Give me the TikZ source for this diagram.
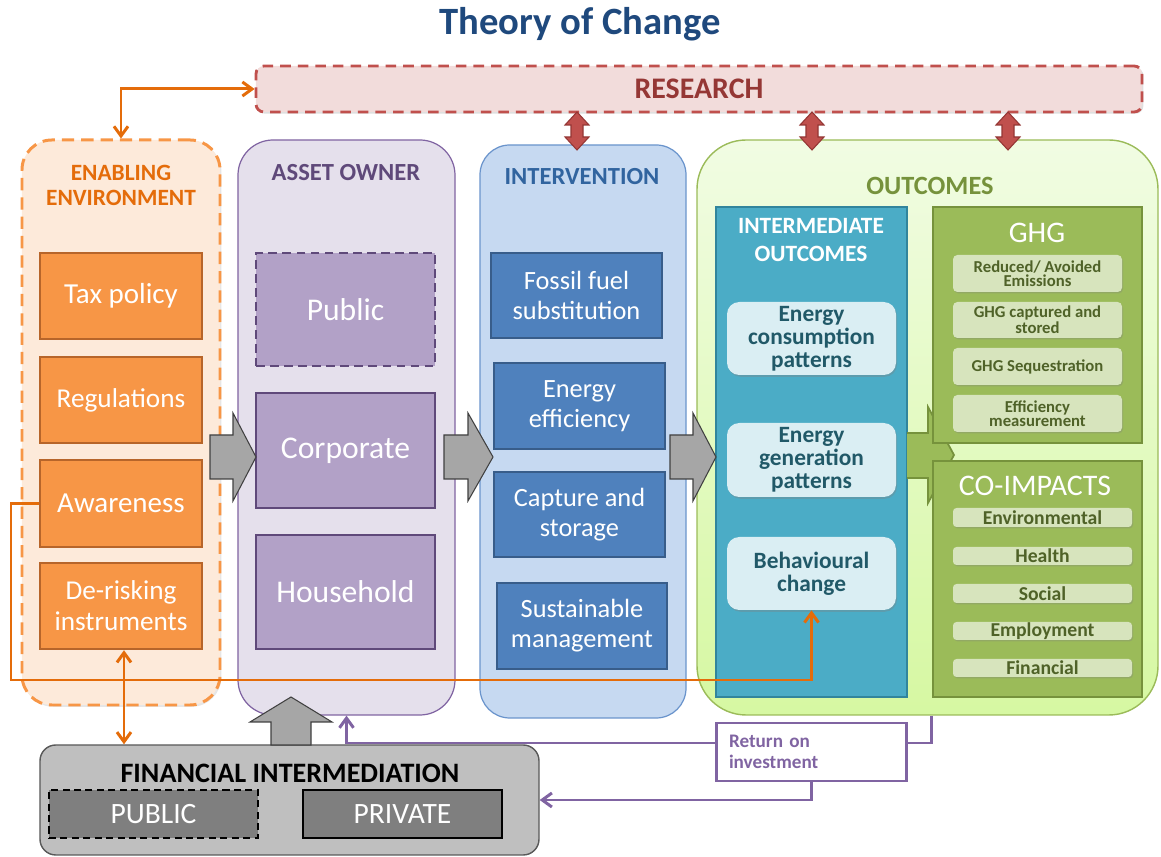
\documentclass[tikz,border=0pt]{standalone}
\usepackage{fontspec}
\setmainfont{Carlito}
\usetikzlibrary{calc,shadows,arrows.meta}
\definecolor{titleblue}{HTML}{1F497D}
\definecolor{resF}{HTML}{F2DCDB}
\definecolor{resB}{HTML}{C0504D}
\definecolor{resT}{HTML}{953735}
\definecolor{resD}{HTML}{943634}
\definecolor{enabF}{HTML}{FDEADA}
\definecolor{enabB}{HTML}{F79646}
\definecolor{enabT}{HTML}{E46C0A}
\definecolor{oboxF}{HTML}{F79646}
\definecolor{oboxB}{HTML}{B7652A}
\definecolor{assetF}{HTML}{E5E0EC}
\definecolor{assetB}{HTML}{8064A2}
\definecolor{assetT}{HTML}{5F497A}
\definecolor{pboxF}{HTML}{B2A1C7}
\definecolor{intvF}{HTML}{C6D9F1}
\definecolor{intvB}{HTML}{6A94CC}
\definecolor{intvT}{HTML}{31649F}
\definecolor{bboxF}{HTML}{4F81BD}
\definecolor{bboxB}{HTML}{385D8A}
\definecolor{outTop}{HTML}{F1FCE3}
\definecolor{outBot}{HTML}{D6F8A2}
\definecolor{outB}{HTML}{9BBB59}
\definecolor{outT}{HTML}{76923C}
\definecolor{interF}{HTML}{4BACC6}
\definecolor{interB}{HTML}{31859C}
\definecolor{ebF}{HTML}{DAEEF3}
\definecolor{ebT}{HTML}{215968}
\definecolor{ghgF}{HTML}{9BBB59}
\definecolor{ghgB}{HTML}{76923C}
\definecolor{giF}{HTML}{D7E4BD}
\definecolor{giT}{HTML}{4F6228}
\definecolor{arrF}{HTML}{A6A6A6}
\definecolor{arrB}{HTML}{404040}
\definecolor{finF}{HTML}{BFBFBF}
\definecolor{finB}{HTML}{595959}
\definecolor{fiF}{HTML}{7F7F7F}
\definecolor{purp}{HTML}{8064A2}
\newcommand\fs[2]{\fontsize{#1}{#2}\selectfont}
\newcommand\bx[7]{%
  \pgfmathsetmacro\bxcx{(#2+#4)/2}\pgfmathsetmacro\bxcy{(#3+#5)/2}%
  \pgfmathsetmacro\bxw{(#4-#2)*0.02}\pgfmathsetmacro\bxh{(#5-#3)*0.02}%
  \node[inner sep=0pt, minimum width=\bxw cm, minimum height=\bxh cm, #6] (#1) at (\bxcx,\bxcy) {#7};}
\begin{document}
\begin{tikzpicture}[x=0.02cm,y=-0.02cm,
  obox/.style={draw=oboxB, fill=oboxF, line width=1.4pt, text=white, align=center, font=\fs{15.5}{17.5}},
  pbox/.style={draw=assetT, fill=pboxF, line width=1.4pt, text=white, align=center, font=\fs{18}{20}},
  bbox/.style={draw=bboxB, fill=bboxF, line width=1.4pt, text=white, align=center, font=\fs{15}{17}},
  ebox/.style={fill=ebF, rounded corners=7pt, text=ebT, align=center, font=\fs{13.3}{13}\bfseries, drop shadow={opacity=0.35, shadow xshift=0.6pt, shadow yshift=-1pt}},
  gitem/.style={fill=giF, rounded corners=2.5pt, text=giT, align=center, font=\fs{9.5}{8}\bfseries, drop shadow={opacity=0.3, shadow xshift=0.6pt, shadow yshift=-0.8pt}},
  citem/.style={fill=giF, rounded corners=2pt, text=giT, align=center, font=\fs{11.2}{12}\bfseries, drop shadow={opacity=0.3, shadow xshift=0.6pt, shadow yshift=-0.8pt}},
  blockarrow/.style={fill=arrF, draw=arrB, line width=0.6pt, line join=miter},
  redarrow/.style={fill=resB, draw=resD, line width=0.6pt},
  barb/.tip={Straight Barb[length=5.5pt,width=8pt]},
  orangeline/.style={draw=enabT, line width=1.7pt},
  purpleline/.style={draw=purp, line width=1.7pt},
  ttlnode/.style={align=center, inner sep=0pt}
]
\useasboundingbox (0,0) rectangle (1161,857);

% title
\node[ttlnode, text=titleblue, font=\fs{22}{24}\bfseries] (title) at (580,24) {Theory of Change};

% research
\bx{research}{256}{66}{1142}{112}{draw=resB, fill=resF, line width=1.6pt, dash pattern=on 6pt off 4pt, rounded corners=4.5pt, text=resT, font=\fs{17}{20}\bfseries, drop shadow={opacity=0.25, shadow xshift=0.8pt, shadow yshift=-1pt}}{RESEARCH}

% enabling environment
\bx{enab}{22}{140}{220}{705}{draw=enabB, fill=enabF, line width=1.7pt, dash pattern=on 7pt off 4pt, rounded corners=17pt, drop shadow={opacity=0.2, shadow xshift=0.8pt, shadow yshift=-1pt}}{}
\node[ttlnode, text=enabT, font=\fs{13.3}{14.2}\bfseries] (enabT) at (121,185) {ENABLING\\ENVIRONMENT};
\bx{tax}{40}{253}{202}{339}{obox, font=\fs{16.5}{18}}{Tax policy}
\bx{reg}{40}{357}{202}{443}{obox}{Regulations}
\bx{aware}{40}{460}{202}{547}{obox, font=\fs{16.5}{18}}{Awareness}
\bx{derisk}{40}{563}{202}{649}{obox}{De-risking\\instruments}

% asset owner
\bx{asset}{238}{140}{455}{715}{draw=assetB, fill=assetF, line width=0.7pt, rounded corners=20pt}{}
\node[ttlnode, text=assetT, font=\fs{14}{16}\bfseries] (assetT) at (346,173) {ASSET OWNER};
\bx{public}{256}{253}{435}{366}{pbox, dash pattern=on 5pt off 3pt, line width=1.5pt}{Public}
\bx{corp}{256}{393}{435}{508}{pbox}{Corporate}
\bx{house}{256}{535}{435}{649}{pbox}{Household}

% intervention
\bx{intv}{480}{145}{686}{718}{draw=intvB, fill=intvF, line width=0.7pt, rounded corners=17pt}{}
\node[ttlnode, text=intvT, font=\fs{14}{16}\bfseries] (intvT) at (582,177) {INTERVENTION};
\bx{fossil}{491}{253}{662}{338}{bbox}{Fossil fuel\\substitution}
\bx{effic}{494}{363}{665}{449}{bbox}{Energy\\efficiency}
\bx{capt}{494}{472}{665}{557}{bbox}{Capture and\\storage}
\bx{sust}{497}{583}{667}{669}{bbox}{Sustainable\\management}

% outcomes
\bx{outc}{697}{140}{1158}{715}{draw=outB, top color=outTop, bottom color=outBot, line width=0.8pt, rounded corners=28pt}{}
\node[ttlnode, text=outT, font=\fs{15}{17}\bfseries] (outcT) at (930,186) {OUTCOMES};
\bx{inter}{716}{207}{907}{697}{draw=interB, fill=interF, line width=1.6pt}{}
\node[ttlnode, text=white, font=\fs{13.3}{15.4}\bfseries] (interT) at (811,240) {INTERMEDIATE\\OUTCOMES};
\bx{econs}{727}{302}{896}{375}{ebox}{Energy\\consumption\\patterns}
\bx{egen}{727}{423}{896}{497}{ebox}{Energy\\generation\\patterns}
\bx{behav}{727}{537}{896}{610}{ebox}{Behavioural\\change}

% green block arrow
\path[fill=ghgF, draw=ghgB, line width=1pt, line join=miter]
  (907,433) -- (928,433) -- (928,407) -- (954,455) -- (928,503) -- (928,478) -- (907,478);

\bx{ghg}{933}{207}{1142}{443}{draw=ghgB, fill=ghgF, line width=1.6pt}{}
\node[ttlnode, text=white, font=\fs{17}{19}] (ghgT) at (1037,233) {GHG};
\bx{g1}{953}{255}{1122}{292}{gitem}{Reduced/ Avoided\\Emissions}
\bx{g2}{953}{302}{1122}{338}{gitem}{GHG captured and\\stored}
\bx{g3}{953}{348}{1122}{385}{gitem}{GHG Sequestration}
\bx{g4}{953}{395}{1122}{432}{gitem}{Efficiency\\measurement}

\bx{coimp}{933}{461}{1142}{697}{draw=ghgB, fill=ghgF, line width=1.6pt}{}
\node[ttlnode, text=white, font=\fs{17}{19}] (coT) at (1035,486) {CO-IMPACTS};
\bx{c1}{953}{508}{1132}{527}{citem}{Environmental}
\bx{c2}{953}{547}{1132}{565}{citem}{Health}
\bx{c3}{953}{584}{1132}{603}{citem}{Social}
\bx{c4}{953}{622}{1132}{640}{citem}{Employment}
\bx{c5}{953}{659}{1132}{677}{citem}{Financial}

% grey block arrows
\path[blockarrow] (210,435) -- (233,435) -- (233,413) -- (256,457) -- (233,501) -- (233,479) -- (210,479) -- cycle;
\path[blockarrow] (444,435) -- (468,435) -- (468,413) -- (493,457) -- (468,501) -- (468,479) -- (444,479) -- cycle;
\path[blockarrow] (670,435) -- (693,435) -- (693,413) -- (716,457) -- (693,501) -- (693,479) -- (670,479) -- cycle;

% research double arrows
\foreach \xx in {577,812,1008}{
  \path[redarrow] (\xx,112) -- ++(12,13) -- ++(-6,0) -- ++(0,12) -- ++(6,0) -- (\xx,150) -- ++(-12,-13) -- ++(6,0) -- ++(0,-12) -- ++(-6,0) -- cycle;
}

% financial intermediation
\bx{fin}{40}{745}{539}{855}{draw=finB, fill=finF, line width=0.8pt, rounded corners=9pt}{}
\node[ttlnode, text=black, font=\fs{16}{18}\bfseries] (finT) at (290,773) {FINANCIAL INTERMEDIATION};
\bx{fpub}{49}{790}{258}{838}{draw=black, fill=fiF, line width=1.7pt, dash pattern=on 4pt off 2.5pt, text=white, font=\fs{16.8}{18}}{PUBLIC}
\bx{fpriv}{303}{790}{502}{838}{draw=black, fill=fiF, line width=1.7pt, text=white, font=\fs{16.8}{18}}{PRIVATE}

% up arrow
\path[blockarrow] (271,745) -- (271,722) -- (250,722) -- (291,697) -- (332,722) -- (311,722) -- (311,745) -- cycle;

% return on investment
\bx{roi}{717}{723}{906}{781}{draw=purp, fill=white, line width=1.7pt, align=left, text width=3.3cm, inner xsep=0.26cm, text=purp, font=\fs{10.9}{12}\bfseries}{Return on\\investment}

% orange connectors
\draw[orangeline, barb-barb] (research.west) -| (enab.north);
\coordinate (oc) at (11,680);
\draw[orangeline, -barb] (aware.west) -| (oc) -| (behav.south);
\draw[orangeline, barb-barb] ([xshift=0.06cm]derisk.south) -- ([xshift=0.06cm]derisk.south |- fin.north);

% purple connectors
\draw[purpleline] ([xshift=0.08cm]outc.south) |- ([yshift=0.18cm]roi.east);
\draw[purpleline, -barb] ([yshift=0.18cm]roi.west) -| (asset.south);
\draw[purpleline, -barb] (roi.south) |- (fin.east);
\end{tikzpicture}
\end{document}
